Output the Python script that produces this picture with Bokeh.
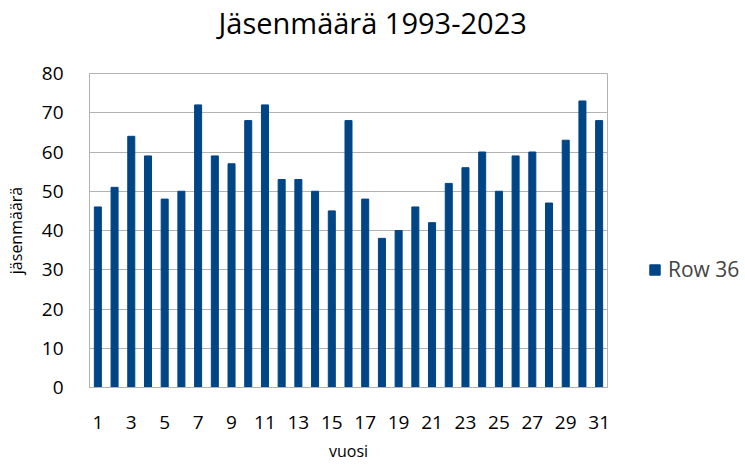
from bokeh.plotting import figure
from bokeh.layouts import row
from bokeh.models import ColumnDataSource, Legend, LegendItem, FixedTicker, Range1d, Title
from bokeh.embed import file_html
from bokeh.resources import INLINE

years = list(range(1, 32))
members = [46, 51, 64, 59, 48, 50, 72, 59, 57, 68, 72, 53, 53, 50, 45, 68,
           48, 38, 40, 46, 42, 52, 56, 60, 50, 59, 60, 47, 63, 73, 68]
x_ticks = list(range(1, 32, 2))
y_ticks = list(range(0, 81, 10))
series_name = "Row 36"

FONT = "Open Sans"
BAR = "#004586"
GRID = "#b3b3b3"

src = ColumnDataSource(dict(x=years, y=members))

p = figure(width=620, height=464, output_backend="svg", toolbar_location=None,
           x_range=Range1d(0.5, 31.5), y_range=Range1d(0, 80),
           min_border_left=89, min_border_right=13, min_border_top=73, min_border_bottom=77)

r = p.vbar(x="x", top="y", width=0.42, source=src, color=BAR, line_color=BAR)

p.title.text = "Jäsenmäärä 1993-2023"
p.title.align = "left"
p.title.offset = 129
p.title.text_font = FONT
p.title.text_font_size = "29px"
p.title.text_font_style = "normal"
p.title.text_color = "black"
p.title.standoff = 0

# spacer between title and frame
p.add_layout(Title(text=" ", text_font_size="2px", standoff=28), "above")

p.outline_line_color = GRID
p.outline_line_width = 1

p.xaxis.ticker = FixedTicker(ticks=x_ticks)
p.yaxis.ticker = FixedTicker(ticks=y_ticks)
p.xgrid.grid_line_color = None
p.ygrid.grid_line_color = GRID
p.ygrid.grid_line_width = 1

for ax in (p.xaxis, p.yaxis):
    ax.axis_line_color = GRID
    ax.major_tick_line_color = None
    ax.minor_tick_line_color = None
    ax.major_label_text_font = FONT
    ax.major_label_text_font_size = "19px"
    ax.major_label_text_color = "black"
    ax.axis_label_text_font = FONT
    ax.axis_label_text_font_size = "16px"
    ax.axis_label_text_font_style = "normal"
    ax.axis_label_text_color = "black"

p.xaxis.axis_label = "vuosi"
p.yaxis.axis_label = "jäsenmäärä"
p.xaxis.major_label_standoff = 22
p.yaxis.major_label_standoff = 20
p.xaxis.axis_label_standoff = 8
p.yaxis.axis_label_standoff = 12

# legend panel
p2 = figure(width=120, height=464, output_backend="svg", toolbar_location=None,
            x_range=Range1d(0, 1), y_range=Range1d(0, 1),
            min_border_left=0, min_border_right=0, min_border_top=0, min_border_bottom=0)
p2.axis.visible = False
p2.grid.grid_line_color = None
p2.outline_line_color = None
nan = float("nan")
dummy = p2.vbar(x=[nan], top=[nan], width=0.1, color=BAR, line_color=BAR)

legend = Legend(items=[LegendItem(label=series_name, renderers=[dummy])],
                location=(28, 104), orientation="vertical",
                border_line_color=None, background_fill_alpha=0,
                label_text_font=FONT, label_text_font_size="21px",
                glyph_width=13, glyph_height=13, padding=0, margin=0,
                label_standoff=7)
p2.add_layout(legend, "center")

layout = row(p, p2, spacing=0)
open("out.html", "w").write(file_html(layout, INLINE))
